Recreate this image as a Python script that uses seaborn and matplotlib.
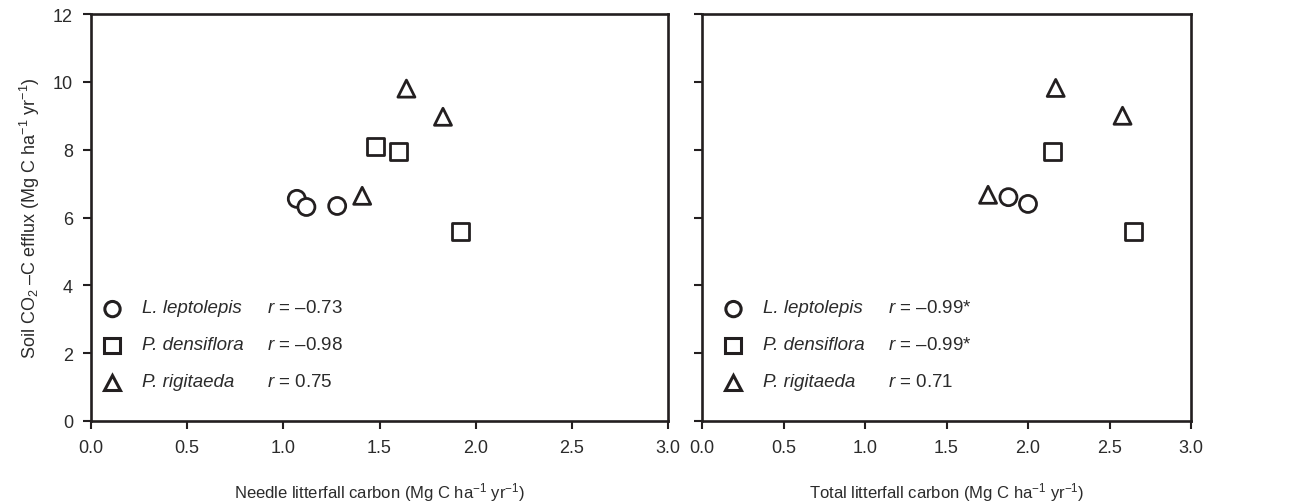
import numpy as np
import pandas as pd
import seaborn as sns
import matplotlib
matplotlib.use("Agg")
import matplotlib.pyplot as plt
from matplotlib.lines import Line2D
from matplotlib.markers import MarkerStyle
from matplotlib.transforms import Affine2D

sns.set_theme(style="ticks")
plt.rcParams['font.family'] = ['Liberation Sans', 'DejaVu Sans']
plt.rcParams['mathtext.fontset'] = 'custom'
plt.rcParams['mathtext.rm'] = 'Liberation Sans'
plt.rcParams['mathtext.it'] = 'Liberation Sans:italic'

species = ["L. leptolepis", "P. densiflora", "P. rigitaeda"]

# Needle litterfall panel
needle_x_L = [1.07, 1.12, 1.28]
needle_y_L = [6.55, 6.31, 6.34]
needle_x_Pd = [1.48, 1.60, 1.92]
needle_y_Pd = [8.08, 7.96, 5.60]
needle_x_Pr = [1.41, 1.64, 1.83]
needle_y_Pr = [6.64, 9.80, 8.97]
needle_r = ["–0.73", "–0.98", "0.75"]

# Total litterfall panel
total_x_L = [1.88, 2.00]
total_y_L = [6.60, 6.40]
total_x_Pd = [2.15, 2.65]
total_y_Pd = [7.94, 5.60]
total_x_Pr = [1.755, 2.17, 2.58]
total_y_Pr = [6.67, 9.82, 9.00]
total_r = ["–0.99*", "–0.99*", "0.71"]

x_ticks = [0.0, 0.5, 1.0, 1.5, 2.0, 2.5, 3.0]
y_ticks = [0, 2, 4, 6, 8, 10, 12]

ink = '#231f20'
txt = '#2b2b2b'
FS = 13.5
markers = {species[0]: 'o', species[1]: 's', species[2]: '^'}


def make_df(xl, yl, xd, yd, xr, yr):
    return pd.DataFrame({
        'x': xl + xd + xr,
        'y': yl + yd + yr,
        'species': [species[0]] * len(xl) + [species[1]] * len(xd) + [species[2]] * len(xr),
    })


df_needle = make_df(needle_x_L, needle_y_L, needle_x_Pd, needle_y_Pd, needle_x_Pr, needle_y_Pr)
df_total = make_df(total_x_L, total_y_L, total_x_Pd, total_y_Pd, total_x_Pr, total_y_Pr)

fig = plt.figure(figsize=(13.07, 5.02), dpi=100)
ax1 = fig.add_axes([91 / 1307, 1 - 422 / 502, (668 - 91) / 1307, (422 - 15) / 502])
ax2 = fig.add_axes([702 / 1307, 1 - 422 / 502, (1191 - 702) / 1307, (422 - 15) / 502])

for ax, df, rvals, xlabel, legx in [
    (ax1, df_needle, needle_r, r"Needle litterfall carbon (Mg C ha$^{-1}$ yr$^{-1}$)", 0.020),
    (ax2, df_total, total_r, r"Total litterfall carbon (Mg C ha$^{-1}$ yr$^{-1}$)", 0.044),
]:
    sns.scatterplot(data=df, x='x', y='y', style='species', markers=markers,
                    style_order=species, color='white', edgecolor=ink,
                    linewidth=2.0, s=150, legend=False, ax=ax, zorder=3)
    ax.set_xlim(0, 3)
    ax.set_ylim(0, 12)
    ax.set_xticks(x_ticks)
    ax.set_xticklabels([f"{t:.1f}" for t in x_ticks])
    ax.set_yticks(y_ticks)
    for s in ax.spines.values():
        s.set_color(ink)
        s.set_linewidth(1.9)
    ax.tick_params(axis='both', direction='out', length=6, width=1.5, color=ink,
                   labelcolor=txt, labelsize=13, pad=7)
    ax.set_xlabel(xlabel, fontsize=12, color=txt, labelpad=17)

    handles = [Line2D([], [], linestyle='none',
                      marker=MarkerStyle(markers[sp], transform=Affine2D().translate(0, -0.3)),
                      markersize=11, markerfacecolor='white', markeredgecolor=ink,
                      markeredgewidth=2.2)
               for sp in species]
    blanks = [Line2D([], [], linestyle='none') for _ in species]
    rlabels = [r"$\it{r}$ = " + r for r in rvals]
    leg = ax.legend(handles + blanks, species + rlabels, ncol=2, loc='upper left',
                    bbox_to_anchor=(legx, 0.31), frameon=False, fontsize=FS,
                    handlelength=1.0, handleheight=1.5, handletextpad=1.1,
                    columnspacing=-0.85, labelspacing=0.75, borderaxespad=0.0,
                    borderpad=0.0)
    for i, t in enumerate(leg.get_texts()):
        t.set_color(txt)
        if i < len(species):
            t.set_fontstyle('italic')

ax1.set_ylabel(r"Soil CO$_2$ –C efflux (Mg C ha$^{-1}$ yr$^{-1}$)", fontsize=13,
               color=txt, labelpad=8)
ax2.set_ylabel("")
ax2.set_yticklabels([])

fig.savefig("out.png", dpi=100, facecolor='white')
